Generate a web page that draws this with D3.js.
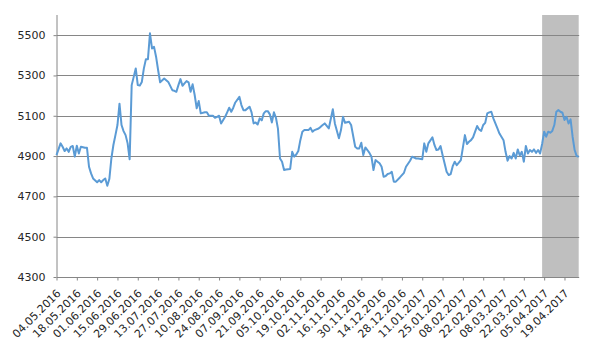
<!DOCTYPE html>
<html>
<head>
<meta charset="utf-8">
<script src="https://d3js.org/d3.v7.min.js"></script>
<style>
  body { margin: 0; background: #fff; }
  svg { display: block; }
  text { font-family: "DejaVu Sans", Verdana, sans-serif; font-size: 11px; fill: #262626; }
</style>
</head>
<body>
<svg id="chart" width="605" height="356"></svg>
<script>
// ---- data ----
const tickLabels = ["04.05.2016","18.05.2016","01.06.2016","15.06.2016","29.06.2016","13.07.2016",
  "27.07.2016","10.08.2016","24.08.2016","07.09.2016","21.09.2016","05.10.2016","19.10.2016",
  "02.11.2016","16.11.2016","30.11.2016","14.12.2016","28.12.2016","11.01.2017","25.01.2017",
  "08.02.2017","22.02.2017","08.03.2017","22.03.2017","05.04.2017","19.04.2017"];
const tickEvery = 10;          // a label every 10 trading days
const dayCount = 258;          // trading days on the axis
const shadeStart = 239;        // shaded period (trading-day index)
const shadeEnd = 257;
const yTicks = [4300, 4500, 4700, 4900, 5100, 5300, 5500];
const yDomain = [4300, 5600];

const dayIdx = [0,2,3,4,5,6,7,8,9,10,11,12,14,15,16,17,18,20,21,22,23,24,25,26,27,28,29,30,31,32,33,34,35,36,37,38,39,40,41,42,43,44,45,46,47,48,49,50,51,53,55,57,58,59,60,61,62,63,64,65,66,67,68,69,70,71,73,74,75,77,78,79,80,81,83,84,85,86,87,88,90,91,92,93,95,96,97,98,99,100,101,102,103,104,105,106,107,108,109,110,111,112,113,115,116,117,118,119,120,121,122,124,125,126,127,129,130,131,132,134,136,137,139,140,141,142,144,145,147,148,149,150,151,152,153,154,155,156,157,158,159,160,161,162,163,164,165,166,167,169,171,172,174,175,177,178,180,181,182,183,185,186,187,188,189,190,192,193,194,195,196,197,198,199,201,202,203,204,205,207,208,209,210,211,212,213,214,215,217,218,220,221,222,223,224,225,226,227,228,229,230,231,232,233,234,235,236,237,238,239,240,241,242,243,244,245,246,247,248,249,250,251,252,253,254,255,256,257];
const values = [4905,4963,4946,4925,4938,4921,4946,4950,4897,4951,4913,4946,4941,4941,4847,4814,4789,4770,4781,4770,4781,4789,4753,4786,4888,4955,5004,5054,5160,5054,5024,5004,4963,4884,5252,5293,5335,5252,5250,5268,5335,5381,5381,5509,5434,5442,5393,5327,5266,5285,5268,5227,5224,5219,5252,5282,5249,5261,5272,5266,5219,5256,5203,5137,5173,5112,5117,5117,5100,5100,5090,5095,5100,5062,5095,5117,5140,5120,5140,5166,5194,5153,5128,5128,5145,5117,5062,5067,5057,5087,5077,5112,5123,5123,5107,5067,5117,5090,5035,4888,4872,4831,4833,4836,4921,4897,4908,4925,4979,5021,5029,5029,5040,5021,5029,5037,5045,5054,5062,5037,5132,5062,4988,5029,5095,5065,5070,5054,4946,4938,4938,4966,4905,4943,4930,4916,4897,4831,4880,4872,4864,4847,4797,4801,4811,4814,4822,4773,4773,4794,4817,4847,4877,4897,4888,4888,4884,4963,4921,4963,4993,4955,4930,4933,4950,4905,4822,4806,4811,4850,4872,4855,4867,4880,5004,4960,4971,4979,4993,5049,5032,5025,5054,5065,5112,5117,5120,5087,5037,5012,4979,4921,4877,4900,4888,4916,4888,4933,4903,4921,4872,4950,4913,4930,4921,4933,4916,4930,4913,4960,5021,4996,5021,5016,5025,5054,5120,5128,5120,5115,5079,5095,5062,5082,4996,4930,4900,4897];

// ---- layout ----
const plot = { left: 56.5, right: 578.7, top: 15, bottom: 277 };
const svg = d3.select("#chart");

const x = d3.scaleLinear().domain([0, dayCount - 1]).range([plot.left, plot.right]);
const y = d3.scaleLinear().domain(yDomain).range([plot.bottom, plot.top]);

// shaded band
svg.append("rect")
  .attr("x", x(shadeStart)).attr("y", y(yDomain[1]))
  .attr("width", x(shadeEnd) - x(shadeStart))
  .attr("height", y(yDomain[0]) - y(yDomain[1]))
  .attr("fill", "#bfbfbf");

// gridlines
svg.append("g").selectAll("line").data(yTicks.slice(1)).join("line")
  .attr("x1", plot.left).attr("x2", plot.right + 0.5)
  .attr("y1", d => Math.round(y(d)) + 0.5).attr("y2", d => Math.round(y(d)) + 0.5)
  .attr("stroke", "#868686").attr("stroke-width", 1);

// y axis
const yAxis = d3.axisLeft(y).tickValues(yTicks).tickSize(3).tickSizeOuter(0).tickFormat(d3.format("d"));
const gy = svg.append("g").attr("transform", `translate(${plot.left},0)`).call(yAxis);
gy.select(".domain").attr("stroke", "#868686").attr("d", `M0.5,${plot.top}V${plot.bottom}`);
gy.selectAll(".tick line").attr("stroke", "#868686");
gy.selectAll(".tick text").attr("x", -11).attr("fill", "#262626");

// x axis
const tickIdx = tickLabels.map((_, i) => i * tickEvery);
const xAxis = d3.axisBottom(x).tickValues(tickIdx).tickSize(3).tickSizeOuter(0)
  .tickFormat((d, i) => tickLabels[i]);
const gx = svg.append("g").attr("transform", `translate(0,${Math.round(plot.bottom) + 0.5})`).call(xAxis);
gx.select(".domain").attr("stroke", "#868686").attr("d", `M${plot.left},0H${plot.right + 0.5}`);
gx.selectAll(".tick line").attr("stroke", "#868686");
gx.selectAll(".tick text")
  .attr("text-anchor", "end")
  .attr("dy", 0).attr("y", 0)
  .attr("transform", "translate(4.5,16.5) rotate(-45)")
  .attr("fill", "#262626");
gx.selectAll("text").style("font-size", "11px");
gy.selectAll("text").style("font-size", "11px");

// line
const series = dayIdx.map((d, i) => ({ d, v: values[i] }));
svg.append("path")
  .datum(series)
  .attr("fill", "none")
  .attr("stroke", "#5b9bd5")
  .attr("stroke-width", 2)
  .attr("stroke-linejoin", "round")
  .attr("d", d3.line().x(p => x(p.d)).y(p => y(p.v)));
</script>
</body>
</html>
